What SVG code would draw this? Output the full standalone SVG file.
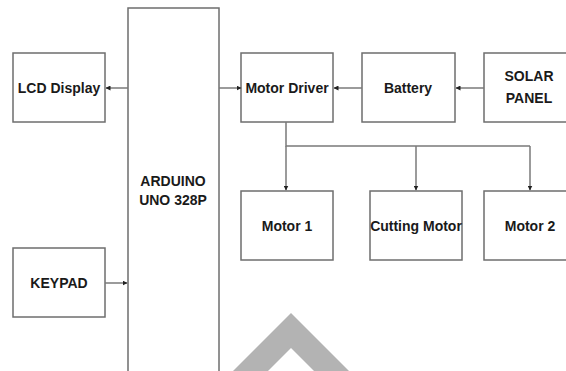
<svg xmlns="http://www.w3.org/2000/svg" width="566" height="371" viewBox="0 0 566 371">
<style>
.box{fill:#fff;stroke:#6e6e6e;stroke-width:1.5}
.t{font-family:"Liberation Sans",Arial,sans-serif;font-weight:bold;font-size:14px;fill:#1a1a1a;text-anchor:middle}
.c{fill:none;stroke:#7a7a7a;stroke-width:1.5}
</style>
<defs>
<marker id="ah" viewBox="0 0 10 10" refX="9" refY="5" markerWidth="5" markerHeight="5" orient="auto" markerUnits="userSpaceOnUse">
<path d="M0,0 L10,5 L0,10 Z" fill="#222"/>
</marker>
</defs>
<rect width="566" height="371" fill="#fff"/>
<g id="arduino"><rect class="box" x="128" y="8" width="91" height="370"/><text class="t" x="173" y="186">ARDUINO</text><text class="t" x="173" y="205">UNO 328P</text></g>
<g id="lcd"><rect class="box" x="13" y="53" width="92" height="69"/><text class="t" x="59" y="93">LCD Display</text></g>
<g id="keypad"><rect class="box" x="13" y="248" width="92" height="69"/><text class="t" x="59" y="288">KEYPAD</text></g>
<g id="motordriver"><rect class="box" x="241" y="53" width="92" height="69"/><text class="t" x="287" y="93">Motor Driver</text></g>
<g id="battery"><rect class="box" x="362" y="53" width="93" height="69"/><text class="t" x="408" y="93">Battery</text></g>
<g id="solar"><rect class="box" x="484" y="53" width="92" height="69"/><text class="t" x="529" y="81">SOLAR</text><text class="t" x="529" y="103">PANEL</text></g>
<g id="motor1"><rect class="box" x="241" y="191" width="92" height="69"/><text class="t" x="287" y="231">Motor 1</text></g>
<g id="cutting"><rect class="box" x="370" y="191" width="92" height="69"/><text class="t" x="416" y="231">Cutting Motor</text></g>
<g id="motor2"><rect class="box" x="484" y="191" width="92" height="69"/><text class="t" x="530" y="231">Motor 2</text></g>
<g id="connectors">
<line class="c" x1="128" y1="88" x2="106" y2="88" marker-end="url(#ah)"/>
<line class="c" x1="219" y1="88" x2="241" y2="88" marker-end="url(#ah)"/>
<line class="c" x1="362" y1="88" x2="334" y2="88" marker-end="url(#ah)"/>
<line class="c" x1="484" y1="88" x2="456" y2="88" marker-end="url(#ah)"/>
<line class="c" x1="105" y1="283" x2="127" y2="283" marker-end="url(#ah)"/>
<polyline class="c" points="286,122 286,146 530,146"/>
<line class="c" x1="286" y1="146" x2="286" y2="190" marker-end="url(#ah)"/>
<line class="c" x1="416" y1="146" x2="416" y2="190" marker-end="url(#ah)"/>
<line class="c" x1="530" y1="146" x2="530" y2="190" marker-end="url(#ah)"/>
</g>
<polygon points="291,313 351,373 316,373 291,348 266,373 231,373" fill="#b3b3b3"/>
</svg>
